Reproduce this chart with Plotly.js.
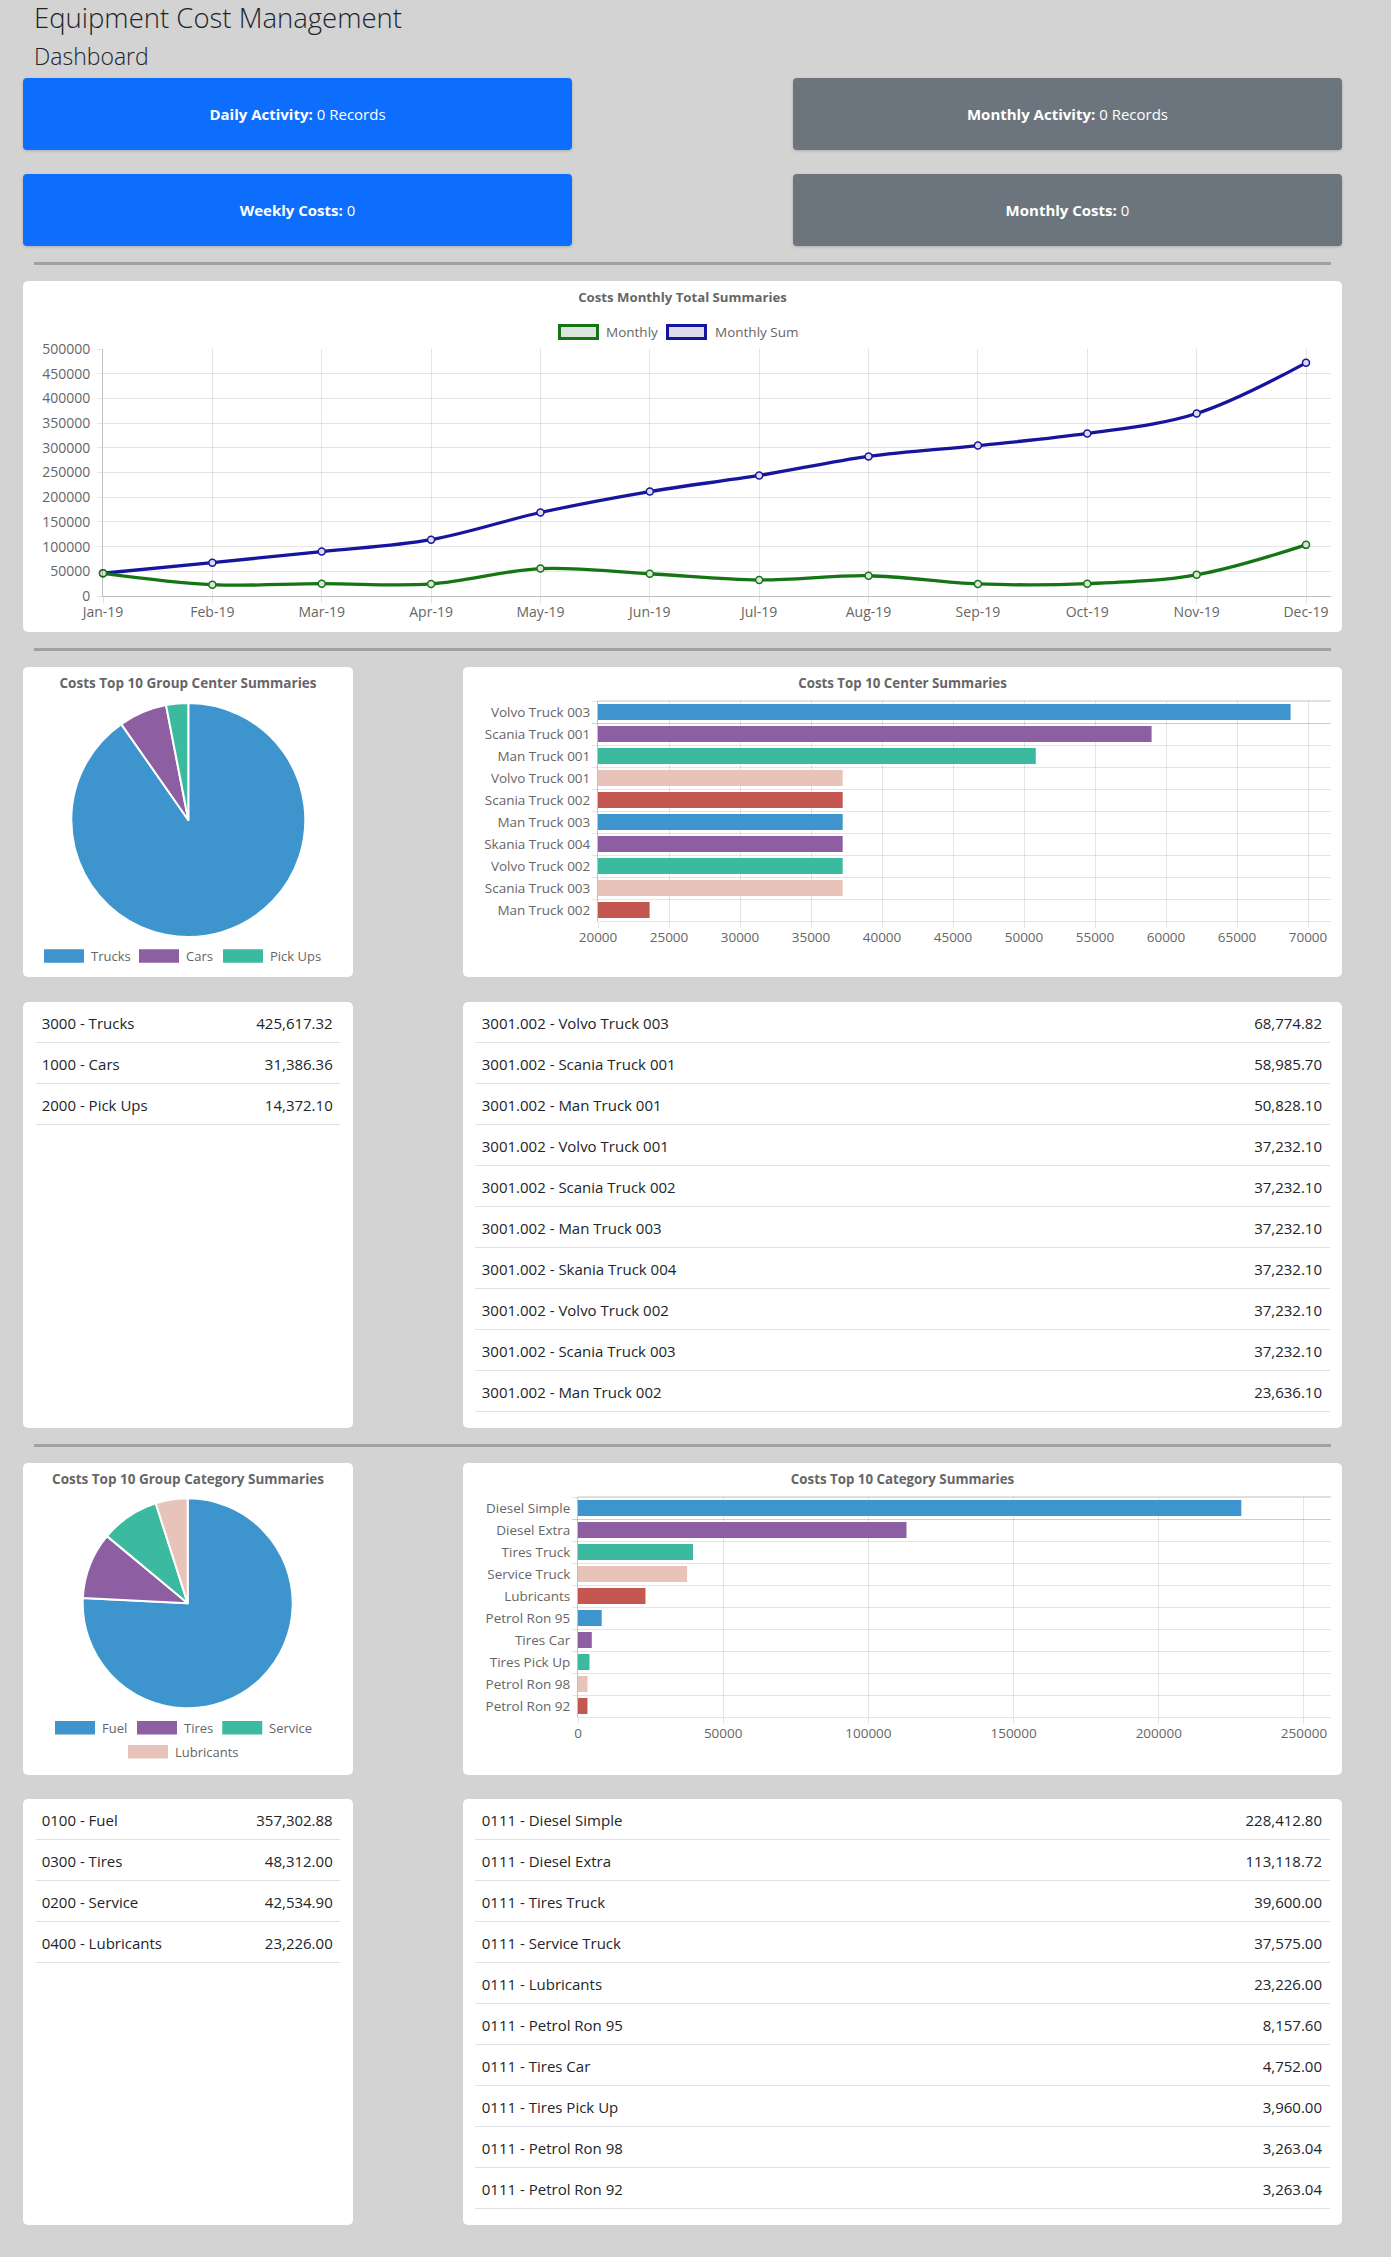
<!DOCTYPE html>
<html>
<head>
<meta charset="utf-8">
<title>Equipment Cost Management</title>
<script src="https://cdn.plot.ly/plotly-3.0.1.min.js"></script>
<style>
  html,body{margin:0;padding:0;background:#d3d3d3;}
  body{font-family:"Open Sans","Noto Sans",sans-serif;}
  #page{position:relative;width:1391px;height:2257px;overflow:hidden;}
  .txt{position:absolute;color:#212529;font-weight:300;white-space:nowrap;line-height:1;}
  .stat{position:absolute;border-radius:4px;color:#fff;display:flex;align-items:center;justify-content:center;font-size:15px;box-shadow:0 1px 3px rgba(0,0,0,.18);}
  .stat b{font-weight:700;margin-right:4px;}
  .blue{background:#0d6efd;}
  .gray{background:#6c757d;}
  .hr{position:absolute;left:34px;width:1297px;height:3px;background:#a1a1a1;}
  .card{position:absolute;background:#fff;border-radius:5px;}
  .chart{position:absolute;}
  .row{position:absolute;box-sizing:border-box;height:41px;padding-top:2px;border-bottom:1px solid #dee2e6;display:flex;align-items:center;justify-content:space-between;font-size:15px;color:#212529;white-space:nowrap;}
</style>
</head>
<body>
<div id="page">
  <div class="txt" style="left:34px;top:4px;font-size:27.5px;">Equipment Cost Management</div>
  <div class="txt" style="left:34px;top:45px;font-size:23px;">Dashboard</div>

  <div class="stat blue" style="left:23px;top:78px;width:549px;height:72px;"><b>Daily Activity:</b>0 Records</div>
  <div class="stat gray" style="left:793px;top:78px;width:549px;height:72px;"><b>Monthly Activity:</b>0 Records</div>
  <div class="stat blue" style="left:23px;top:174px;width:549px;height:72px;"><b>Weekly Costs:</b>0</div>
  <div class="stat gray" style="left:793px;top:174px;width:549px;height:72px;"><b>Monthly Costs:</b>0</div>

  <div class="hr" style="top:262px;"></div>

  <div class="card" style="left:23px;top:281px;width:1319px;height:351px;"></div>
  <div class="chart" id="lineChart" style="left:23px;top:281px;width:1319px;height:351px;"></div>

  <div class="hr" style="top:648px;"></div>

  <div class="card" style="left:23px;top:667px;width:330px;height:310px;"></div>
  <div class="chart" id="pieCenter" style="left:23px;top:667px;width:330px;height:310px;"></div>
  <div class="card" style="left:463px;top:667px;width:879px;height:310px;"></div>
  <div class="chart" id="barCenter" style="left:463px;top:667px;width:879px;height:310px;"></div>

  <div class="card" id="tblGroupCenter" style="left:23px;top:1002px;width:330px;height:426px;"></div>
  <div class="card" id="tblCenter" style="left:463px;top:1002px;width:879px;height:426px;"></div>

  <div class="hr" style="top:1444px;"></div>

  <div class="card" style="left:23px;top:1463px;width:330px;height:312px;"></div>
  <div class="chart" id="pieCategory" style="left:23px;top:1463px;width:330px;height:312px;"></div>
  <div class="card" style="left:463px;top:1463px;width:879px;height:312px;"></div>
  <div class="chart" id="barCategory" style="left:463px;top:1463px;width:879px;height:312px;"></div>

  <div class="card" id="tblGroupCategory" style="left:23px;top:1799px;width:330px;height:426px;"></div>
  <div class="card" id="tblCategory" style="left:463px;top:1799px;width:879px;height:426px;"></div>
</div>

<script>
// ---------------- DATA ----------------
const months = ['Jan-19','Feb-19','Mar-19','Apr-19','May-19','Jun-19','Jul-19','Aug-19','Sep-19','Oct-19','Nov-19','Dec-19'];
const monthlyValues    = [46000, 23000, 25000, 24500, 55500, 45000, 32500, 41000, 24500, 25000, 43000, 103500];
const monthlySumValues = [46000, 67500, 90000, 114000, 169000, 211500, 244000, 282500, 304500, 329000, 369500, 472000];

const groupCenterCodes  = ['3000', '1000', '2000'];
const groupCenterLabels = ['Trucks', 'Cars', 'Pick Ups'];
const groupCenterValues = [425617.32, 31386.36, 14372.10];

const centerCode   = '3001.002';
const centerLabels = ['Volvo Truck 003','Scania Truck 001','Man Truck 001','Volvo Truck 001','Scania Truck 002','Man Truck 003','Skania Truck 004','Volvo Truck 002','Scania Truck 003','Man Truck 002'];
const centerValues = [68774.82, 58985.70, 50828.10, 37232.10, 37232.10, 37232.10, 37232.10, 37232.10, 37232.10, 23636.10];

const groupCategoryCodes  = ['0100', '0300', '0200', '0400'];
const groupCategoryLabels = ['Fuel', 'Tires', 'Service', 'Lubricants'];
const groupCategoryValues = [357302.88, 48312.00, 42534.90, 23226.00];

const categoryCode   = '0111';
const categoryLabels = ['Diesel Simple','Diesel Extra','Tires Truck','Service Truck','Lubricants','Petrol Ron 95','Tires Car','Tires Pick Up','Petrol Ron 98','Petrol Ron 92'];
const categoryValues = [228412.80, 113118.72, 39600.00, 37575.00, 23226.00, 8157.60, 4752.00, 3960.00, 3263.04, 3263.04];

const palette = ['#3e95cd', '#8e5ea2', '#3cba9f', '#e8c3b9', '#c45850'];

// ---------------- STYLE ----------------
const FONT = '"Open Sans","Noto Sans",sans-serif';
const TXT = '#666';
const GRID = 'rgba(0,0,0,0.1)';
const AXIS = 'rgba(0,0,0,0.25)';
const GREEN = '#157515', GREEN_FILL = '#dce4dc';
const BLUE = '#15159e', BLUE_FILL = '#dcdcea';
const cfg = {displayModeBar:false, staticPlot:true};

function pxMap(W, H, m){
  const pw = W - m.l - m.r, ph = H - m.t - m.b;
  return {X: x => (x - m.l) / pw, Y: y => 1 - (y - m.t) / ph};
}
function legendBox(P, x0, x1, y0, y1, fill, line, lw){
  return {type:'rect', xref:'paper', yref:'paper', x0:P.X(x0), x1:P.X(x1), y0:P.Y(y1), y1:P.Y(y0),
          fillcolor:fill, line:{color:line || fill, width: lw || 0}, layer:'above'};
}
function legendText(P, x, y, text, size){
  return {xref:'paper', yref:'paper', x:P.X(x - 2), y:P.Y(y), xanchor:'left', yanchor:'middle',
          text:text, showarrow:false, font:{size:size, color:TXT, family:FONT}};
}

// ---------------- LINE CHART ----------------
(function(){
  const W = 1319, H = 351, m = {l:80, r:11, t:68, b:36, pad:0};
  const P = pxMap(W, H, m);
  const traces = [
    {type:'scatter', mode:'lines+markers', name:'Monthly Sum', x:months, y:monthlySumValues, cliponaxis:false,
     line:{color:BLUE, width:3.3, shape:'spline', smoothing:1}, marker:{size:7, color:BLUE_FILL, line:{color:BLUE, width:1.5}}, hoverinfo:'none'},
    {type:'scatter', mode:'lines+markers', name:'Monthly', x:months, y:monthlyValues, cliponaxis:false,
     line:{color:GREEN, width:3.3, shape:'spline', smoothing:1}, marker:{size:7, color:GREEN_FILL, line:{color:GREEN, width:1.5}}, hoverinfo:'none'}
  ];
  const layout = {
    width:W, height:H, margin:m, paper_bgcolor:'rgba(0,0,0,0)', plot_bgcolor:'rgba(0,0,0,0)',
    font:{family:FONT, color:TXT}, showlegend:false,
    title:{text:'<b>Costs Monthly Total Summaries</b>', font:{size:13.2, color:TXT, family:FONT}, x:0.5, xanchor:'center', y:1 - 16/H, yanchor:'middle'},
    xaxis:{type:'category', range:[0, 11.2286], showgrid:true, gridcolor:GRID, ticks:'outside', ticklen:6, tickcolor:GRID,
           showline:true, linecolor:AXIS, zeroline:false, tickfont:{size:14, color:TXT}, ticklabelstandoff:-3},
    yaxis:{range:[0, 500000], tick0:0, dtick:50000, tickformat:'d', showgrid:true, gridcolor:GRID, ticks:'outside', ticklen:5, tickcolor:GRID,
           showline:true, linecolor:AXIS, zeroline:false, tickfont:{size:14, color:TXT}, ticklabelstandoff:4},
    shapes:[
      legendBox(P, 536.5, 574.5, 44.5, 57.5, GREEN_FILL, GREEN, 3),
      legendBox(P, 644.5, 682.5, 44.5, 57.5, BLUE_FILL, BLUE, 3)
    ],
    annotations:[
      legendText(P, 582.7, 51, 'Monthly', 13.5),
      legendText(P, 691.5, 51, 'Monthly Sum', 13.5)
    ]
  };
  Plotly.newPlot('lineChart', traces, layout, cfg);
})();

// ---------------- PIE CHARTS ----------------
function pieChart(id, W, H, title, labels, values, cx, cy, r, legend){
  const m = {l:0, r:0, t:0, b:0, pad:0};
  const P = pxMap(W, H, m);
  const trace = {type:'pie', labels:labels, values:values, sort:false, direction:'clockwise', rotation:0,
    textinfo:'none', hoverinfo:'none',
    marker:{colors:labels.map((_, i) => palette[i % palette.length]), line:{color:'#fff', width:2}},
    domain:{x:[(cx - r)/W, (cx + r)/W], y:[1 - (cy + r)/H, 1 - (cy - r)/H]}};
  const shapes = [], annotations = [];
  legend.forEach((it, i) => {
    shapes.push(legendBox(P, it.bx, it.bx + 40, it.cy - 6.7, it.cy + 6.7, palette[i % palette.length]));
    annotations.push(legendText(P, it.tx, it.cy, labels[i], 13));
  });
  const layout = {width:W, height:H, margin:m, paper_bgcolor:'rgba(0,0,0,0)', font:{family:FONT, color:TXT}, showlegend:false,
    title:{text:'<b>' + title + '</b>', font:{size:13.5, color:TXT, family:FONT}, x:0.5, xanchor:'center', y:1 - 16.3/H, yanchor:'middle'},
    shapes:shapes, annotations:annotations};
  Plotly.newPlot(id, [trace], layout, cfg);
}
pieChart('pieCenter', 330, 310, 'Costs Top 10 Group Center Summaries', groupCenterLabels, groupCenterValues, 165.3, 153, 117,
  [{bx:21, tx:67.7, cy:289}, {bx:116, tx:162.7, cy:289}, {bx:200, tx:247, cy:289}]);
pieChart('pieCategory', 330, 312, 'Costs Top 10 Group Category Summaries', groupCategoryLabels, groupCategoryValues, 164.7, 140.3, 105,
  [{bx:32, tx:79.3, cy:264.7}, {bx:114, tx:161, cy:264.7}, {bx:199.3, tx:246, cy:264.7}, {bx:105, tx:152.3, cy:288.7}]);

// ---------------- BAR CHARTS ----------------
function barChart(id, W, H, m, title, labels, values, xrange, tick0, dtick){
  const trace = {type:'bar', orientation:'h', y:labels, x:values, hoverinfo:'none',
    marker:{color:values.map((_, i) => palette[i % palette.length])}};
  const layout = {width:W, height:H, margin:Object.assign({pad:0}, m), paper_bgcolor:'rgba(0,0,0,0)', plot_bgcolor:'rgba(0,0,0,0)',
    font:{family:FONT, color:TXT}, showlegend:false, bargap:0.27,
    title:{text:'<b>' + title + '</b>', font:{size:13.3, color:TXT, family:FONT}, x:0.5, xanchor:'center', y:1 - 16.3/H, yanchor:'middle'},
    xaxis:{range:xrange, tick0:tick0, dtick:dtick, tickformat:'d', showgrid:true, gridcolor:GRID, ticks:'outside', ticklen:6, tickcolor:GRID,
           showline:true, linecolor:GRID, zeroline:false, tickfont:{size:13.5, color:TXT}, ticklabelstandoff:-2},
    yaxis:{type:'category', autorange:'reversed', tickson:'boundaries', ticks:'outside', ticklen:5, tickcolor:GRID, showgrid:true, gridcolor:GRID,
           showline:true, linecolor:AXIS, zeroline:false, tickfont:{size:13.5, color:TXT}, ticklabelstandoff:4},
    shapes:[{type:'line', xref:'paper', yref:'paper', x0:0, x1:1, y0:1, y1:1, line:{color:AXIS, width:1}, layer:'above'}]
  };
  Plotly.newPlot(id, [trace], layout, cfg);
}
barChart('barCenter', 879, 310, {l:135, r:11, t:34, b:56}, 'Costs Top 10 Center Summaries', centerLabels, centerValues, [20000, 71620], 20000, 5000);
barChart('barCategory', 879, 312, {l:115, r:11, t:34, b:58}, 'Costs Top 10 Category Summaries', categoryLabels, categoryValues, [0, 259300], 0, 50000);

// ---------------- LIST TABLES ----------------
function fmt(v){ return v.toLocaleString('en-US', {minimumFractionDigits:2, maximumFractionDigits:2}); }
function buildList(id, codes, labels, values, left, width, padL, padR){
  const card = document.getElementById(id);
  labels.forEach((lab, i) => {
    const row = document.createElement('div');
    row.className = 'row';
    row.style.left = left + 'px';
    row.style.width = width + 'px';
    row.style.top = (i * 41) + 'px';
    row.style.paddingLeft = padL + 'px';
    row.style.paddingRight = padR + 'px';
    const a = document.createElement('span');
    a.textContent = (Array.isArray(codes) ? codes[i] : codes) + ' - ' + lab;
    const b = document.createElement('span');
    b.textContent = fmt(values[i]);
    row.appendChild(a); row.appendChild(b);
    card.appendChild(row);
  });
}
buildList('tblGroupCenter', groupCenterCodes, groupCenterLabels, groupCenterValues, 12.5, 304.5, 6.2, 7.3);
buildList('tblCenter', centerCode, centerLabels, centerValues, 11.7, 855.3, 7.1, 8);
buildList('tblGroupCategory', groupCategoryCodes, groupCategoryLabels, groupCategoryValues, 12.5, 304.5, 6.2, 7.3);
buildList('tblCategory', categoryCode, categoryLabels, categoryValues, 11.7, 855.3, 7.1, 8);
</script>
</body>
</html>
